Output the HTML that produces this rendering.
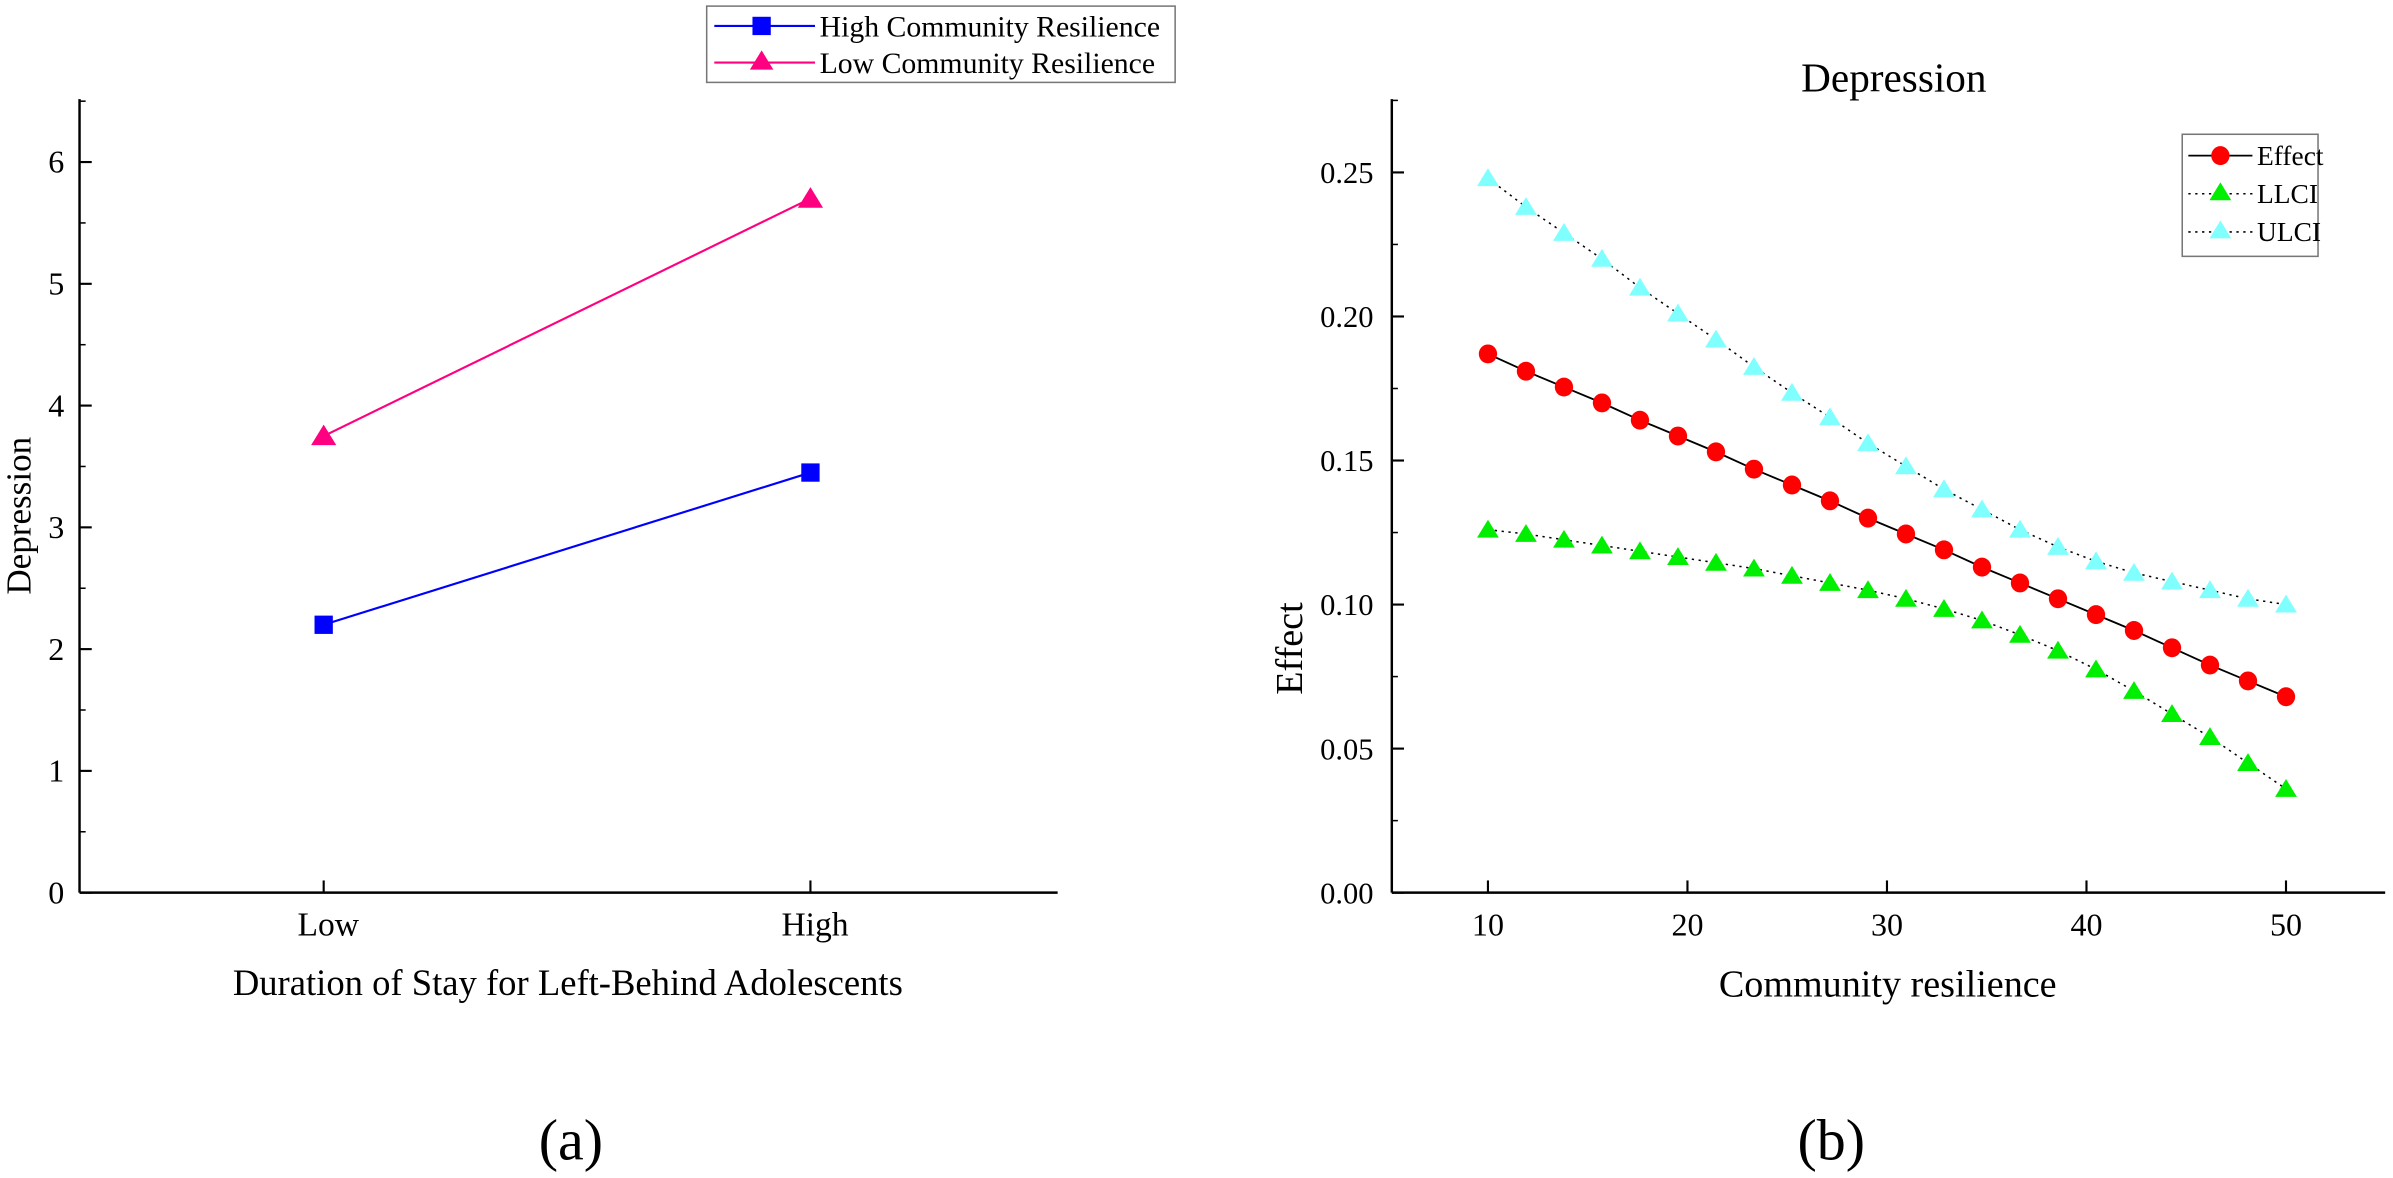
<!DOCTYPE html>
<html><head><meta charset="utf-8"><style>
html,body{margin:0;padding:0;background:#fff;}
svg{display:block;font-family:"Liberation Serif",serif;}
</style></head><body>
<svg id="fig" width="2393" height="1178" viewBox="0 0 1568 772" xmlns="http://www.w3.org/2000/svg">
<g id="ga"></g>
<g id="gb"></g>
<text x="374" y="760" font-size="38" text-anchor="middle">(a)</text>
<text x="1200" y="760" font-size="38" text-anchor="middle">(b)</text>
</svg>
<script>
// Chart A data
const aCategories = ["Low", "High"];
const aHighCR = [2.2, 3.45];
const aLowCR = [3.75, 5.7];
const aYTicks = [0, 1, 2, 3, 4, 5, 6];
// Chart B data
const bX = [10,11.905,13.81,15.714,17.619,19.524,21.429,23.333,25.238,27.143,29.048,30.952,32.857,34.762,36.667,38.571,40.476,42.381,44.286,46.19,48.095,50];
const bEffect = [0.187,0.181,0.1755,0.17,0.164,0.1585,0.153,0.147,0.1415,0.136,0.130,0.1245,0.119,0.113,0.1075,0.102,0.0965,0.091,0.085,0.079,0.0735,0.068];
const bULCI = [0.248,0.238,0.229,0.220,0.210,0.201,0.192,0.1825,0.1735,0.165,0.156,0.148,0.140,0.133,0.126,0.120,0.115,0.111,0.108,0.105,0.102,0.100];
const bLLCI = [0.126,0.1245,0.1225,0.1205,0.1185,0.1165,0.1145,0.1125,0.110,0.1075,0.105,0.102,0.0985,0.0945,0.0895,0.084,0.0775,0.070,0.062,0.054,0.045,0.036];
const bYTicks = [0, 0.05, 0.10, 0.15, 0.20, 0.25];
const bXTicks = [10, 20, 30, 40, 50];

const NS = "http://www.w3.org/2000/svg";
function mk(parent, tag, attrs, text) {
  const e = document.createElementNS(NS, tag);
  for (const k in attrs) e.setAttribute(k, attrs[k]);
  if (text !== undefined) e.textContent = text;
  parent.appendChild(e);
  return e;
}
function tri(cx, cy, s) { return `${cx},${cy - s} ${cx - s * 1.1},${cy + s * 0.8} ${cx + s * 1.1},${cy + s * 0.8}`; }

// ---------- Chart A ----------
const ga = document.getElementById('ga');
const aL = 52, aR = 693, aT = 65, aB = 585;
const ay = v => aB - v * 79.8;
const ax = i => [212, 531][i];
let e;
e = mk(ga, 'line', {x1:aL, y1:aT, x2:aL, y2:aB, stroke:'#000', 'stroke-width':1.6});
 
e = mk(ga, 'line', {x1:aL, y1:aB, x2:aR, y2:aB, stroke:'#000', 'stroke-width':1.6});
 
aYTicks.forEach(v => {
  mk(ga, 'line', {x1:aL, y1:ay(v), x2:aL + 8, y2:ay(v), stroke:'#000', 'stroke-width':1.4});
  if (v < 6.5) mk(ga, 'line', {x1:aL, y1:ay(v + 0.5), x2:aL + 4, y2:ay(v + 0.5), stroke:'#000', 'stroke-width':1});
  e = mk(ga, 'text', {x:aL - 10, y:ay(v) + 7, 'font-size':21, 'text-anchor':'end'}, String(v));
   
});
aCategories.forEach((c, i) => {
  mk(ga, 'line', {x1:ax(i), y1:aB, x2:ax(i), y2:aB - 8, stroke:'#000', 'stroke-width':1.4});
  e = mk(ga, 'text', {x:ax(i) + 3, y:aB + 28, 'font-size':22, 'text-anchor':'middle'}, c);
   
});
e = mk(ga, 'text', {x:372, y:652, 'font-size':24, 'text-anchor':'middle'}, 'Duration of Stay for Left-Behind Adolescents');
 
e = mk(ga, 'text', {x:0, y:0, 'font-size':23, 'text-anchor':'middle', transform:'translate(20,338) rotate(-90)'}, 'Depression');
 
// series
e = mk(ga, 'polyline', {points:aHighCR.map((v, i) => ax(i) + ',' + ay(v)).join(' '), fill:'none', stroke:'#0000ff', 'stroke-width':1.4});
 
aHighCR.forEach((v, i) => {
  const m = mk(ga, 'rect', {x:ax(i) - 6, y:ay(v) - 6, width:12, height:12, fill:'#0000ff'});
   
});
e = mk(ga, 'polyline', {points:aLowCR.map((v, i) => ax(i) + ',' + ay(v)).join(' '), fill:'none', stroke:'#ff0080', 'stroke-width':1.4});
 
aLowCR.forEach((v, i) => {
  const m = mk(ga, 'polygon', {points:tri(ax(i), ay(v), 7.5), fill:'#ff0080'});
   
});
// legend A
const lgA = mk(ga, 'g', {});
 
mk(lgA, 'rect', {x:463, y:4, width:307, height:50, fill:'#fff', stroke:'#777', 'stroke-width':1});
mk(lgA, 'line', {x1:468, y1:17, x2:534, y2:17, stroke:'#0000ff', 'stroke-width':1.4});
mk(lgA, 'rect', {x:493, y:11, width:12, height:12, fill:'#0000ff'});
e = mk(lgA, 'text', {x:537, y:24, 'font-size':19.5}, 'High Community Resilience');
 
mk(lgA, 'line', {x1:468, y1:41, x2:534, y2:41, stroke:'#ff0080', 'stroke-width':1.4});
mk(lgA, 'polygon', {points:tri(499, 40, 7), fill:'#ff0080'});
e = mk(lgA, 'text', {x:537, y:48, 'font-size':19.5, 'xml:space':'preserve'}, 'Low  Community Resilience');
 

// ---------- Chart B ----------
const gb = document.getElementById('gb');
const bL = 912, bR = 1563, bT = 65, bB = 585;
const by = v => bB - v / 0.05 * 94.4;
const bx = v => 975 + (v - 10) * 13.075;
e = mk(gb, 'line', {x1:bL, y1:bT, x2:bL, y2:bB, stroke:'#000', 'stroke-width':1.6});
 
e = mk(gb, 'line', {x1:bL, y1:bB, x2:bR, y2:bB, stroke:'#000', 'stroke-width':1.6});
 
bYTicks.forEach(v => {
  mk(gb, 'line', {x1:bL, y1:by(v), x2:bL + 8, y2:by(v), stroke:'#000', 'stroke-width':1.4});
  mk(gb, 'line', {x1:bL, y1:by(v + 0.025), x2:bL + 4, y2:by(v + 0.025), stroke:'#000', 'stroke-width':1});
  e = mk(gb, 'text', {x:bL - 12, y:by(v) + 7, 'font-size':20, 'text-anchor':'end'}, v.toFixed(2));
   
});
bXTicks.forEach(v => {
  mk(gb, 'line', {x1:bx(v), y1:bB, x2:bx(v), y2:bB - 8, stroke:'#000', 'stroke-width':1.4});
  e = mk(gb, 'text', {x:bx(v), y:bB + 28, 'font-size':21, 'text-anchor':'middle'}, String(v));
   
});
e = mk(gb, 'text', {x:1241, y:60, 'font-size':27, 'text-anchor':'middle'}, 'Depression');
 
e = mk(gb, 'text', {x:1237, y:653, 'font-size':25, 'text-anchor':'middle'}, 'Community resilience');
 
e = mk(gb, 'text', {x:0, y:0, 'font-size':25, 'text-anchor':'middle', transform:'translate(853,425) rotate(-90)'}, 'Effect');
 
// series
e = mk(gb, 'polyline', {points:bULCI.map((v, i) => bx(bX[i]) + ',' + by(v)).join(' '), fill:'none', stroke:'#000', 'stroke-width':1, 'stroke-dasharray':'1.5,3'});
 
e = mk(gb, 'polyline', {points:bLLCI.map((v, i) => bx(bX[i]) + ',' + by(v)).join(' '), fill:'none', stroke:'#000', 'stroke-width':1, 'stroke-dasharray':'1.5,3'});
 
e = mk(gb, 'polyline', {points:bEffect.map((v, i) => bx(bX[i]) + ',' + by(v)).join(' '), fill:'none', stroke:'#000', 'stroke-width':1.2});
 
bULCI.forEach((v, i) => {
  const m = mk(gb, 'polygon', {points:tri(bx(bX[i]), by(v), 6.5), fill:'#80ffff'});
   
});
bLLCI.forEach((v, i) => {
  const m = mk(gb, 'polygon', {points:tri(bx(bX[i]), by(v), 6.5), fill:'#00ee00'});
   
});
bEffect.forEach((v, i) => {
  const m = mk(gb, 'ellipse', {cx:bx(bX[i]), cy:by(v), rx:6, ry:6.2, fill:'#ff0000'});
   
});
// legend B
const lgB = mk(gb, 'g', {});
 
mk(lgB, 'rect', {x:1430, y:88, width:89, height:80, fill:'#fff', stroke:'#777', 'stroke-width':1});
mk(lgB, 'line', {x1:1434, y1:102, x2:1476, y2:102, stroke:'#000', 'stroke-width':1.2});
mk(lgB, 'ellipse', {cx:1455, cy:102, rx:6, ry:6.2, fill:'#ff0000'});
e = mk(lgB, 'text', {x:1479, y:108, 'font-size':18}, 'Effect');
 
mk(lgB, 'line', {x1:1434, y1:127, x2:1476, y2:127, stroke:'#000', 'stroke-width':1, 'stroke-dasharray':'1.5,3'});
mk(lgB, 'polygon', {points:tri(1455, 126, 6.5), fill:'#00ee00'});
e = mk(lgB, 'text', {x:1479, y:133, 'font-size':18}, 'LLCI');
 
mk(lgB, 'line', {x1:1434, y1:152, x2:1476, y2:152, stroke:'#000', 'stroke-width':1, 'stroke-dasharray':'1.5,3'});
mk(lgB, 'polygon', {points:tri(1455, 151, 6.5), fill:'#80ffff'});
e = mk(lgB, 'text', {x:1479, y:158, 'font-size':18}, 'ULCI');
 
</script>
</body></html>
